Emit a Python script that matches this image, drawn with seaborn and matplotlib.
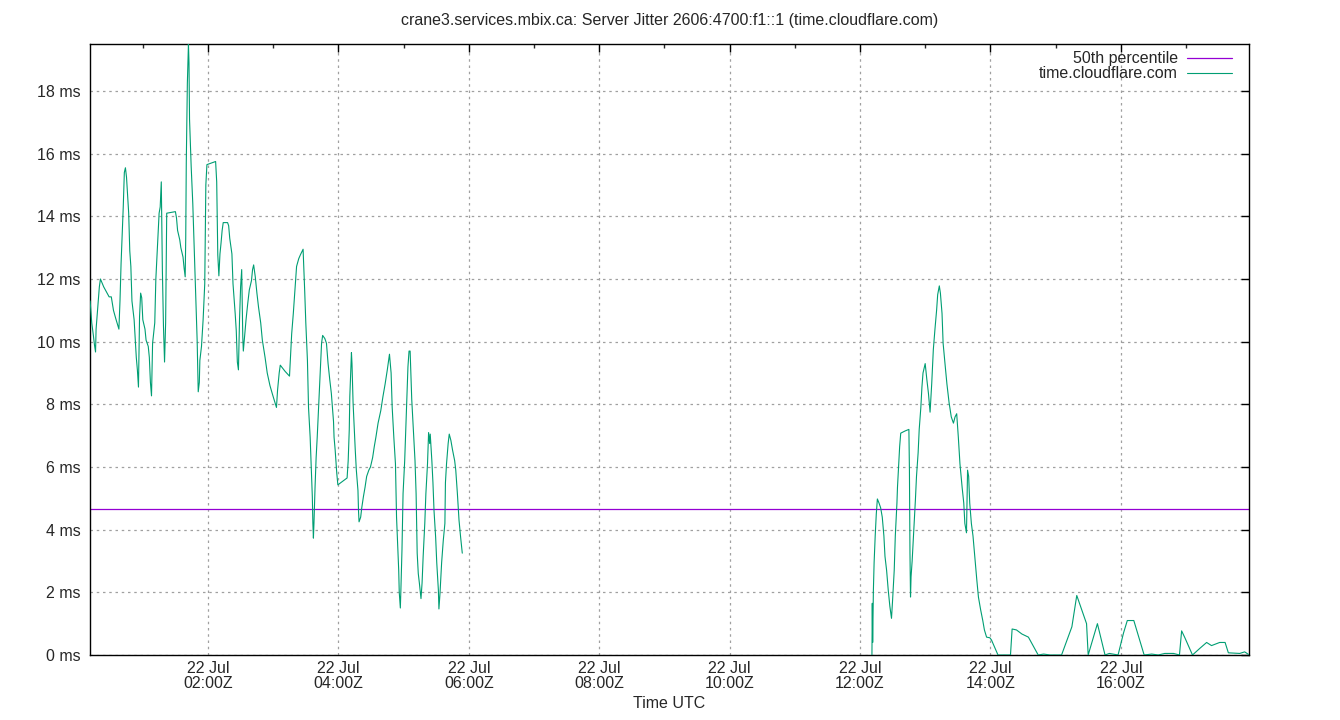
import pandas as pd
import numpy as np
import seaborn as sns
import matplotlib
matplotlib.use("Agg")
import matplotlib.pyplot as plt
import matplotlib.dates as mdates

# jitter samples (time UTC, ms); two runs with a gap between them
morning = [
    ("00:11:30", 11.3), ("00:13", 10.6), ("00:14:30", 10.2), ("00:15:30", 9.9), ("00:16:30", 9.67),
    ("00:17", 10.4), ("00:18", 10.85), ("00:19", 11.33), ("00:20", 11.75), ("00:21", 12.0),
    ("00:24", 11.75), ("00:29", 11.43), ("00:31", 11.43), ("00:33", 11.0), ("00:35", 10.75),
    ("00:38", 10.4), ("00:39", 11.3), ("00:40", 12.5), ("00:41", 13.4), ("00:42", 14.3),
    ("00:43", 15.4), ("00:44", 15.55), ("00:45", 15.25), ("00:46", 14.7), ("00:47", 14.1),
    ("00:48", 12.9), ("00:49", 12.4), ("00:50", 11.3), ("00:52", 10.7), ("00:53", 10.1),
    ("00:54", 9.5), ("00:55", 9.1), ("00:56", 8.55), ("00:57", 10.8), ("00:58", 11.55),
    ("00:59", 11.4), ("01:00", 10.7), ("01:02", 10.4), ("01:03", 10.05), ("01:05", 9.85),
    ("01:06", 9.5), ("01:07", 8.7), ("01:08", 8.27), ("01:09", 9.95), ("01:11", 10.6),
    ("01:12", 12.0), ("01:13", 12.7), ("01:14", 13.45), ("01:15", 14.1), ("01:16", 14.3),
    ("01:17", 15.1), ("01:18", 12.3), ("01:19", 10.5), ("01:20", 9.35), ("01:21", 10.6),
    ("01:22", 14.1), ("01:30", 14.15), ("01:31", 13.95), ("01:32", 13.55), ("01:34", 13.25),
    ("01:35", 13.0), ("01:37", 12.7), ("01:38", 12.35), ("01:39", 12.07), ("01:39:30", 13.3),
    ("01:40", 15.7), ("01:41", 18.25), ("01:42", 19.5), ("01:42:30", 18.9), ("01:43", 17.1),
    ("01:44:30", 15.6), ("01:46", 14.4), ("01:48", 12.2), ("01:49", 11.1), ("01:50", 10.05),
    ("01:51", 8.4), ("01:52", 8.7), ("01:52:30", 9.4), ("01:54", 9.85), ("01:55:30", 10.7),
    ("01:57", 11.85), ("01:58", 15.0), ("01:59", 15.65), ("02:07", 15.75), ("02:08", 15.1),
    ("02:08:30", 14.0), ("02:09", 12.77), ("02:10", 12.1), ("02:11", 12.8), ("02:12", 13.15),
    ("02:13", 13.55), ("02:14", 13.8), ("02:18", 13.8), ("02:19", 13.7), ("02:20", 13.3),
    ("02:22", 12.8), ("02:23", 11.85), ("02:25", 10.9), ("02:26", 10.35), ("02:27", 9.35),
    ("02:28", 9.1), ("02:29", 10.7), ("02:30", 11.75), ("02:31", 12.3), ("02:32", 10.15),
    ("02:32:30", 9.7), ("02:33:30", 10.1), ("02:35", 10.7), ("02:36:30", 11.2), ("02:38", 11.65),
    ("02:40", 11.95), ("02:41", 12.3), ("02:42", 12.45), ("02:43:30", 12.07), ("02:45", 11.55),
    ("02:46:30", 11.1), ("02:48:30", 10.6), ("02:50", 10.05), ("02:52:30", 9.5), ("02:54:30", 9.0),
    ("02:57", 8.6), ("02:59:30", 8.3), ("03:03", 7.9), ("03:04", 8.45), ("03:05:30", 9.0),
    ("03:06:30", 9.25), ("03:11", 9.05), ("03:15", 8.9), ("03:16", 9.6), ("03:17", 10.25),
    ("03:18:30", 10.9), ("03:20", 11.65), ("03:21:30", 12.4), ("03:23:30", 12.65), ("03:25", 12.77),
    ("03:27:30", 12.95), ("03:29", 11.6), ("03:30", 10.6), ("03:31:30", 9.4), ("03:32:30", 7.9),
    ("03:34", 6.95), ("03:35", 6.0), ("03:36", 5.05), ("03:36:30", 4.2), ("03:37", 3.73),
    ("03:37:30", 4.2), ("03:38:30", 5.35), ("03:39:30", 6.3), ("03:40:30", 6.95), ("03:41:30", 7.7),
    ("03:42:30", 8.45), ("03:43:30", 9.2), ("03:44:30", 9.95), ("03:45:30", 10.2), ("03:47:30", 10.1),
    ("03:49", 9.95), ("03:50:30", 9.3), ("03:52", 8.8), ("03:53:30", 8.35), ("03:54:30", 7.9),
    ("03:55:30", 7.45), ("03:56", 6.95), ("03:57", 6.55), ("03:58:30", 5.8), ("03:59:30", 5.43),
    ("04:08", 5.65), ("04:09", 6.2), ("04:10", 7.2), ("04:10:30", 8.25), ("04:12", 9.65),
    ("04:12:30", 9.3), ("04:13:30", 8.05), ("04:14:30", 7.3), ("04:15:30", 6.55), ("04:16:30", 5.9),
    ("04:18", 5.25), ("04:18:30", 4.6), ("04:19", 4.25), ("04:20:30", 4.4), ("04:21:30", 4.7),
    ("04:23", 5.05), ("04:24:30", 5.35), ("04:26", 5.7), ("04:28", 5.9), ("04:29:30", 6.0),
    ("04:31:30", 6.3), ("04:33", 6.65), ("04:34:30", 6.95), ("04:36:30", 7.4), ("04:39", 7.8),
    ("04:41", 8.25), ("04:43", 8.65), ("04:45", 9.1), ("04:47", 9.6), ("04:48:30", 9.0),
    ("04:49:30", 7.9), ("04:51", 6.95), ("04:52:30", 6.1), ("04:53:30", 4.4), ("04:54:30", 3.55),
    ("04:55:30", 2.7), ("04:56", 2.0), ("04:57", 1.5), ("04:57:30", 2.07), ("04:58:30", 3.35),
    ("04:59:30", 5.15), ("05:01", 6.2), ("05:02", 7.2), ("05:03", 8.2), ("05:04", 9.2),
    ("05:05", 9.7), ("05:06", 9.7), ("05:06:30", 9.2), ("05:07:30", 8.15), ("05:09", 7.2),
    ("05:10:30", 6.2), ("05:11:30", 5.15), ("05:12", 4.2), ("05:12:30", 3.25), ("05:13:30", 2.6),
    ("05:14:30", 2.3), ("05:16", 1.8), ("05:17", 2.3), ("05:18", 3.15), ("05:19:30", 4.2),
    ("05:20:30", 5.15), ("05:22", 6.1), ("05:23", 7.1), ("05:24", 6.75), ("05:24:30", 7.05),
    ("05:26", 6.2), ("05:27", 5.5), ("05:28", 4.6), ("05:29:30", 3.75), ("05:30:30", 2.95),
    ("05:32", 2.07), ("05:32:30", 1.47), ("05:33:30", 1.97), ("05:35", 2.95), ("05:36:30", 3.65),
    ("05:38", 4.2), ("05:38:30", 5.5), ("05:39:30", 6.1), ("05:41", 6.75), ("05:42", 7.05),
    ("05:43:30", 6.85), ("05:45", 6.55), ("05:47", 6.2), ("05:48", 5.9), ("05:49:30", 5.15),
    ("05:51", 4.3), ("05:52:30", 3.75), ("05:54", 3.25),
]

afternoon = [
    ("12:11", 0.0), ("12:11:20", 1.65), ("12:11:40", 0.4), ("12:12:20", 2.07), ("12:13", 2.95),
    ("12:14", 3.8), ("12:15", 4.5), ("12:16", 4.98), ("12:17:30", 4.85), ("12:19", 4.7),
    ("12:20:30", 4.4), ("12:22", 3.8), ("12:23", 3.15), ("12:24:30", 2.7), ("12:26", 2.07),
    ("12:27:30", 1.55), ("12:29", 1.17), ("12:30", 1.75), ("12:31:30", 2.7), ("12:32:30", 3.8),
    ("12:34", 4.85), ("12:34:30", 5.35), ("12:35:30", 6.0), ("12:36:30", 6.65), ("12:37:30", 7.08),
    ("12:41:30", 7.15), ("12:45", 7.2), ("12:45:30", 5.9), ("12:46", 3.25), ("12:46:30", 1.85),
    ("12:47", 2.5), ("12:48", 3.0), ("12:49", 3.65), ("12:50", 4.3), ("12:51", 4.95),
    ("12:52", 5.7), ("12:53:30", 6.45), ("12:54:30", 7.2), ("12:56", 7.9), ("12:57", 8.55),
    ("12:58", 9.0), ("13:00", 9.3), ("13:01:30", 8.8), ("13:03", 8.35), ("13:04:30", 7.75),
    ("13:06", 8.65), ("13:07:30", 9.75), ("13:09", 10.4), ("13:10:30", 11.0), ("13:11:30", 11.5),
    ("13:13", 11.78), ("13:14", 11.55), ("13:15:30", 10.9), ("13:16:30", 9.95), ("13:18:30", 9.2),
    ("13:20", 8.65), ("13:22", 8.05), ("13:24", 7.6), ("13:26", 7.4), ("13:27:30", 7.6),
    ("13:29", 7.7), ("13:30:30", 6.95), ("13:32", 6.1), ("13:34", 5.35), ("13:35:30", 4.85),
    ("13:36:30", 4.2), ("13:38", 3.9), ("13:39", 5.9), ("13:40", 5.7), ("13:41", 4.85),
    ("13:42:30", 4.2), ("13:44", 3.8), ("13:46", 3.0), ("13:47:30", 2.4), ("13:49", 1.85),
    ("13:51", 1.45), ("13:53", 1.1), ("13:54:30", 0.8), ("13:56:30", 0.57), ("13:59:30", 0.55),
    ("14:01", 0.48), ("14:07", 0.0), ("14:18:30", 0.0), ("14:20", 0.83), ("14:24", 0.8),
    ("14:29", 0.67), ("14:35", 0.57), ("14:44", 0.0), ("14:49", 0.03), ("14:55", 0.0),
    ("15:05:30", 0.0), ("15:15", 0.9), ("15:19:30", 1.9), ("15:24", 1.45), ("15:28:30", 1.0),
    ("15:30", 0.0), ("15:38:30", 1.0), ("15:45:30", 0.0), ("15:49:30", 0.05), ("15:57:30", 0.0),
    ("16:02:30", 0.7), ("16:06", 1.1), ("16:12", 1.1), ("16:21:30", 0.0), ("16:28:30", 0.03),
    ("16:34:30", 0.0), ("16:40:30", 0.05), ("16:48:30", 0.05), ("16:54", 0.0), ("16:56", 0.77),
    ("16:59", 0.55), ("17:06", 0.0), ("17:13", 0.22), ("17:19", 0.4), ("17:23:30", 0.3),
    ("17:31", 0.4), ("17:36", 0.4), ("17:39", 0.07), ("17:49:30", 0.05), ("17:54", 0.1),
    ("17:57:30", 0.02),
]

median_ms = 4.66
day = "2025-07-22"
x_start = "00:11:24"
x_end = "17:58"
y_ticks = [0, 2, 4, 6, 8, 10, 12, 14, 16, 18]

title = "crane3.services.mbix.ca: Server Jitter 2606:4700:f1::1 (time.cloudflare.com)"
green = "#009e73"
purple = "#9400d3"


def to_frame(samples):
    df = pd.DataFrame(samples, columns=["t", "ms"])
    df["time"] = pd.to_datetime(day + " " + df["t"].where(df["t"].str.len() > 5, df["t"] + ":00"))
    return df


am = to_frame(morning)
pm = to_frame(afternoon)

sns.set_style("white")
plt.rcParams["font.family"] = ["Liberation Sans", "DejaVu Sans"]
plt.rcParams["font.size"] = 11.5

fig = plt.figure(figsize=(13.4, 7.2), dpi=100)
ax = fig.add_axes([90 / 1340, 65 / 720, 1159 / 1340, 611 / 720])

ax.axhline(median_ms, color=purple, lw=0.9, label="50th percentile", zorder=2)
sns.lineplot(data=am, x="time", y="ms", ax=ax, color=green, lw=0.8,
             estimator=None, sort=False, label="time.cloudflare.com", zorder=3)
sns.lineplot(data=pm, x="time", y="ms", ax=ax, color=green, lw=0.8,
             estimator=None, sort=False, zorder=3)

ax.set_xlim(pd.Timestamp(day + " " + x_start), pd.Timestamp(day + " " + x_end))
ax.set_ylim(0, 19.5)

ax.xaxis.set_major_locator(mdates.HourLocator(byhour=range(0, 24, 2)))
ax.xaxis.set_minor_locator(mdates.HourLocator(byhour=range(1, 24, 2)))
ax.xaxis.set_major_formatter(mdates.DateFormatter("%d %b\n%H:%MZ"))
ax.set_yticks(y_ticks)
ax.set_yticklabels([f"{v} ms" for v in y_ticks])

ax.tick_params(which="major", direction="in", length=6, width=1, color="black",
               top=True, right=True, labelsize=11.5)
ax.tick_params(which="minor", direction="in", length=3, width=1, top=True, right=True)
ax.tick_params(axis="y", pad=7)
ax.tick_params(axis="x", pad=4)
for lab in ax.get_xticklabels():
    lab.set_linespacing(1.0)

ax.grid(True, which="major", color="#a0a0a0", linestyle=(0, (2, 3)), lw=0.9)
for s in ax.spines.values():
    s.set_color("black")
    s.set_linewidth(1)

ax.set_xlabel("Time UTC", fontsize=11.5, labelpad=4)
ax.set_ylabel("")
fig.text(0.5, 1 - 20 / 720, title, ha="center", va="center", fontsize=11.5)

ax.legend(loc="upper right", frameon=False, markerfirst=False, fontsize=11.5,
          handlelength=2.8, handletextpad=0.6, labelspacing=0.0,
          borderaxespad=0.3, bbox_to_anchor=(0.995, 1.0065))

fig.savefig("out.png", dpi=100)
